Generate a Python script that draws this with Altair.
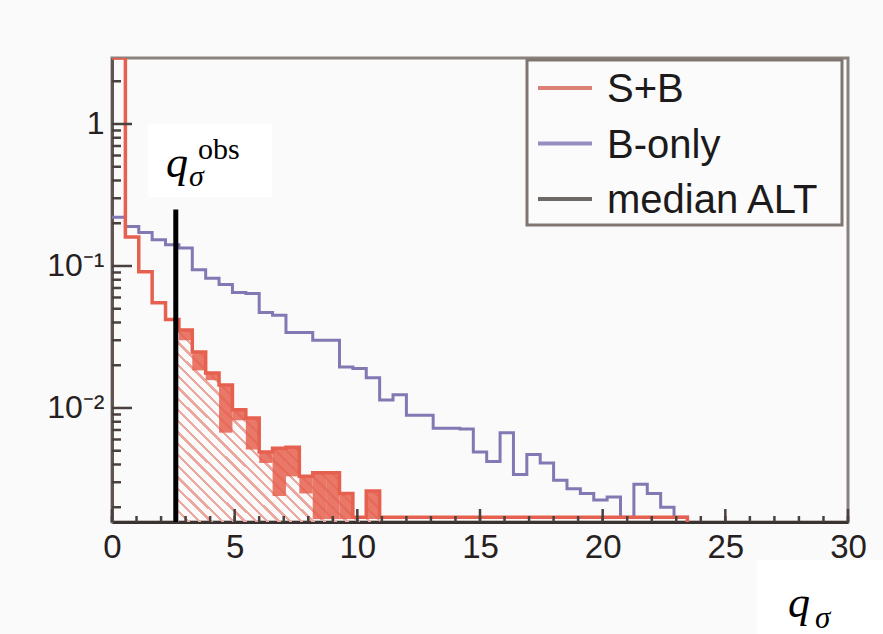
import altair as alt
import pandas as pd

# ---------------- data ----------------
N_BINS = 55
Q_MAX = 30.0
BIN_W = Q_MAX / N_BINS

Y_MIN = 0.001574
Y_MAX = 2.916

q_obs = 2.6
obs_top = 0.25

# S+B (red) histogram, bin contents (upper level of each bin)
sb_hi = [5.0, 0.16, 0.091, 0.055, 0.042, 0.0354, 0.0248, 0.0176, 0.0145, 0.0097,
         0.0085, 0.0049, 0.0052, 0.0053, 0.0033, 0.0035, 0.0035, 0.0025, 0.0017, 0.0026,
         0.0017, 0.0017, 0.0017, 0.0017, 0.0017, 0.0017, 0.0017, 0.0017, 0.0017, 0.0017,
         0.0017, 0.0017, 0.0017, 0.0017, 0.0017, 0.0017, 0.0017, 0.0017, 0.0017, 0.0017,
         0.0017, 0.0017, 0.0017]
# lower level of the fluctuating (blocky) red tail
sb_lo = [5.0, 0.16, 0.091, 0.055, 0.042, 0.030, 0.0184, 0.0157, 0.0067, 0.0082,
         0.0051, 0.0041, 0.0024, 0.0033, 0.0025, 0.00165, 0.00165, 0.00165, 0.0017, 0.00165,
         0.0017, 0.0017, 0.0017, 0.0017, 0.0017, 0.0017, 0.0017, 0.0017, 0.0017, 0.0017,
         0.0017, 0.0017, 0.0017, 0.0017, 0.0017, 0.0017, 0.0017, 0.0017, 0.0017, 0.0017,
         0.0017, 0.0017, 0.0017]
# B-only (blue) histogram
b_only = [0.22, 0.19, 0.172, 0.153, 0.141, 0.134, 0.094, 0.082, 0.074, 0.065,
          0.064, 0.047, 0.045, 0.034, 0.034, 0.030, 0.030, 0.0194, 0.019, 0.0163,
          0.0114, 0.0124, 0.0089, 0.0089, 0.0072, 0.0072, 0.0071, 0.0049, 0.0042, 0.0067,
          0.0034, 0.0047, 0.0041, 0.0031, 0.0027, 0.0025, 0.00225, 0.00236, 0.0017, 0.0029,
          0.0025, 0.0020, 0.0017]

x_tick_values = [0, 5, 10, 15, 20, 25, 30]
y_tick_values = [1, 0.1, 0.01]
y_tick_labels = ["1", "10\u207b\u00b9", "10\u207b\u00b2"]

legend_labels = ["S+B", "B-only", "median ALT"]

# ---------------- styles ----------------
RED = "#e6604f"
BLUE = "#8179b3"
GREY = "#6f6966"
FRAME = "#8a817d"
TXT = "#262120"
W, H = 736, 464
HATCH_END_BIN = 20  # hatch drawn until red reaches the floor

def step_df(vals):
    n = len(vals)
    xs = [k * BIN_W for k in range(n)] + [n * BIN_W, n * BIN_W]
    ys = list(vals) + [vals[-1], Y_MIN]
    return pd.DataFrame({"q": xs, "v": ys, "i": list(range(n + 2))})

df_sb = step_df(sb_hi)
df_b = step_df(b_only)

rect_rows = []
for k, (hi, lo) in enumerate(zip(sb_hi, sb_lo)):
    if lo < hi:
        rect_rows.append({"q": k * BIN_W, "q2": (k + 1) * BIN_W, "v": lo, "v2": hi})
df_blocks = pd.DataFrame(rect_rows)

k_obs = int(q_obs // BIN_W)
hx = [q_obs] + [k * BIN_W for k in range(k_obs + 1, HATCH_END_BIN)] + [HATCH_END_BIN * BIN_W]
hv = [sb_hi[k_obs]] + [sb_hi[k] for k in range(k_obs + 1, HATCH_END_BIN)] + [sb_hi[HATCH_END_BIN - 1]]
df_hatch = pd.DataFrame({"q": hx, "v": hv, "base": [Y_MIN] * len(hx)})

df_obs = pd.DataFrame({"q": [q_obs], "v": [Y_MIN], "v2": [obs_top]})

minor_y = [m * 10.0 ** e for e in (-3, -2, -1, 0) for m in range(2, 10)
           if Y_MIN <= m * 10.0 ** e <= Y_MAX]
df_ymaj = pd.DataFrame({"v": y_tick_values})
df_ymin = pd.DataFrame({"v": minor_y})
df_xmaj = pd.DataFrame({"q": x_tick_values})
df_xmin = pd.DataFrame({"q": list(range(0, 31))})

one = pd.DataFrame({"a": [0]})

# ---------------- scales / axes ----------------
xscale = alt.Scale(domain=[0, Q_MAX], nice=False, zero=False)
yscale = alt.Scale(type="log", domain=[Y_MIN, Y_MAX], nice=False, clamp=True)

label_expr = " : ".join(
    f"datum.value >= {v * 0.5} ? '{l}'" for v, l in zip(y_tick_values[:-1], y_tick_labels[:-1])
) + f" : '{y_tick_labels[-1]}'"

xaxis = alt.Axis(values=x_tick_values, ticks=False, grid=False, title=None,
                 labelFontSize=33, labelFont="Liberation Sans", labelColor=TXT,
                 labelPadding=9, domainColor="#3b3331", domainWidth=3, labelFlush=False)
yaxis = alt.Axis(values=y_tick_values, labelExpr=label_expr, ticks=False, grid=False,
                 title=None, labelFontSize=32, labelFont="Liberation Sans", labelColor=TXT,
                 labelPadding=8, domainColor="#5e5551", domainWidth=3)

X = alt.X("q:Q", scale=xscale, axis=xaxis)
Y = alt.Y("v:Q", scale=yscale, axis=yaxis)

# ---------------- layers ----------------
HATCH_COL = "#eca79f"
CLEAR = "rgba(255,255,255,0)"
stops = []
n_stripes = 36
for s in range(n_stripes):
    a = s / n_stripes
    b = a + 0.3 / n_stripes
    stops += [alt.GradientStop(offset=a, color=HATCH_COL),
              alt.GradientStop(offset=b, color=HATCH_COL),
              alt.GradientStop(offset=b, color=CLEAR),
              alt.GradientStop(offset=(s + 1) / n_stripes, color=CLEAR)]

hatch = alt.Chart(df_hatch).mark_area(
    interpolate="step-after", clip=True,
    fill=alt.Gradient(gradient="linear", stops=stops, x1=0, y1=1, x2=1, y2=0)
).encode(x=X, y=Y, y2="base:Q")

blocks = alt.Chart(df_blocks).mark_rect(color=RED, opacity=0.85, clip=True).encode(
    x=X, x2="q2:Q", y=Y, y2="v2:Q")

blue_line = alt.Chart(df_b).mark_line(interpolate="step-after", color=BLUE,
                                      strokeWidth=3, clip=True).encode(x=X, y=Y, order="i:Q")
red_line = alt.Chart(df_sb).mark_line(interpolate="step-after", color=RED,
                                      strokeWidth=3.5, clip=True).encode(x=X, y=Y, order="i:Q")

obs_line = alt.Chart(df_obs).mark_rule(color="black", strokeWidth=5).encode(
    x=X, y=Y, y2="v2:Q")

TICK = "#4a403d"
ymaj = alt.Chart(df_ymaj).mark_rule(color=TICK, strokeWidth=2.5).encode(
    y=Y, x=alt.value(0), x2=alt.value(20))
ymin_t = alt.Chart(df_ymin).mark_rule(color=TICK, strokeWidth=2.5).encode(
    y=Y, x=alt.value(0), x2=alt.value(9))
xmaj = alt.Chart(df_xmaj).mark_rule(color=TICK, strokeWidth=2.5).encode(
    x=X, y=alt.value(H), y2=alt.value(H - 13))
xmin_t = alt.Chart(df_xmin).mark_rule(color=TICK, strokeWidth=2.5).encode(
    x=X, y=alt.value(H), y2=alt.value(H - 6))

def box(x1, y1, x2, y2, fill, stroke=None, sw=0):
    kw = dict(fill=fill)
    if stroke:
        kw.update(stroke=stroke, strokeWidth=sw)
    return alt.Chart(one).mark_rect(**kw).encode(
        x=alt.value(x1), x2=alt.value(x2), y=alt.value(y1), y2=alt.value(y2))

def txt(s, x, y, size, font="Liberation Sans", style="normal", color=TXT):
    return alt.Chart(one).mark_text(text=s, fontSize=size, font=font, fontStyle=style,
                                    color=color, align="left", baseline="alphabetic").encode(
        x=alt.value(x), y=alt.value(y))

legend_layers = [box(415, 2, 730, 167, "#fbfbfb", "#7f7672", 3)]
legend_colors = ["#dc7f74", "#978dc0", GREY]
for i, (lab, col) in enumerate(zip(legend_labels, legend_colors)):
    yy = 30 + 55.5 * i
    legend_layers.append(alt.Chart(one).mark_rule(color=col, strokeWidth=4).encode(
        x=alt.value(426), x2=alt.value(480), y=alt.value(yy)))
    legend_layers.append(txt(lab, 495, yy + 14, 40, color="#1c1a1a"))

annot = [
    box(36, 66, 160, 139, "white"),
    txt("q", 54, 119, 44, font="Liberation Serif", style="italic", color="black"),
    txt("σ", 77, 128, 30, font="Liberation Serif", style="italic", color="black"),
    txt("obs", 86, 101, 30, font="Liberation Serif", color="black"),
    box(645, 502, 771, 576, "white"),
    txt("q", 676, 559, 44, font="Liberation Serif", style="italic", color="black"),
    txt("σ", 703, 570, 31, font="Liberation Serif", style="italic", color="black"),
]

chart = alt.layer(
    hatch, blocks, blue_line, red_line, obs_line, ymaj, ymin_t, xmaj, xmin_t,
    *legend_layers, *annot
).properties(
    width=W, height=H, autosize="none",
    padding={"left": 112, "top": 58, "right": 35, "bottom": 112}
).configure(background="#fafafa").configure_view(stroke=FRAME, strokeWidth=3)

chart.save("out.html", embed_options={"renderer": "svg", "actions": False})
